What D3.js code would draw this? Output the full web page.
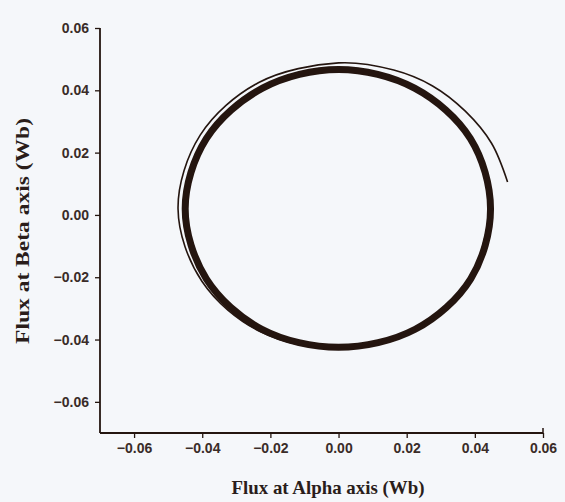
<!DOCTYPE html>
<html>
<head>
<meta charset="utf-8">
<script src="https://cdn.jsdelivr.net/npm/d3@7"></script>
<style>
  body { margin: 0; background: #f5f7fa; }
  svg { display: block; }
</style>
</head>
<body>
<script>
// flux locus, values (Wb)
xTicks = [-0.06, -0.04, -0.02, 0.00, 0.02, 0.04, 0.06];
yTicks = [-0.06, -0.04, -0.02, 0.00, 0.02, 0.04, 0.06];

// first (outer) turn, starting at the right and going anticlockwise
startAlpha = [0.0496, 0.0449, 0.0372, 0.0276, 0.0162, 0.0000, -0.0234, -0.0406, -0.0471, -0.0401, -0.0229, 0.0000, 0.0224, 0.0388, 0.0446];
startBeta  = [0.0106, 0.0230, 0.0333, 0.0414, 0.0465, 0.0488, 0.0425, 0.0256, 0.0020, -0.0213, -0.0375, -0.0428, -0.0365, -0.0203, 0.0020];

// steady state loop
ringAlpha = [0.0446, 0.0387, 0.0223, 0.0000, -0.0223, -0.0388, -0.0450, -0.0388, -0.0225, 0.0000, 0.0225, 0.0388];
ringBeta  = [0.0020, 0.0245, 0.0407, 0.0467, 0.0407, 0.0245, 0.0020, -0.0205, -0.0367, -0.0425, -0.0367, -0.0205];

width = 565, height = 502;
ink = '#24150f';
textInk = '#3a2c28';

svg = d3.select('body').append('svg')
  .attr('width', width)
  .attr('height', height);

xScale = d3.scaleLinear().domain([-0.07, 0.06]).range([100, 543]);
yScale = d3.scaleLinear().domain([-0.07, 0.06]).range([433, 28]);

line = d3.line()
  .x(d => xScale(d[0]))
  .y(d => yScale(d[1]));

ring = d3.zip(ringAlpha, ringBeta);
first = d3.zip(startAlpha, startBeta);

svg.append('path')
  .attr('d', line.curve(d3.curveCatmullRomClosed)(ring))
  .attr('fill', 'none')
  .attr('stroke', ink)
  .attr('stroke-width', 7);

svg.append('path')
  .attr('d', line.curve(d3.curveCatmullRom)(first))
  .attr('fill', 'none')
  .attr('stroke', ink)
  .attr('stroke-width', 1.6);

fmt = d3.format('.2f');
minor = d3.range(-0.07, 0.0601, 0.01);

// x axis
gx = svg.append('g')
  .attr('transform', 'translate(0,' + yScale(-0.07) + ')');
gx.call(d3.axisBottom(xScale).tickValues(minor).tickSize(3).tickFormat(''));
gx.call(d3.axisBottom(xScale).tickValues(xTicks).tickSize(5).tickPadding(5).tickFormat(fmt));
gx.selectAll('.domain').remove();
gx.append('line')
  .attr('x1', xScale(-0.07)).attr('x2', xScale(0.06))
  .attr('stroke', ink).attr('stroke-width', 1.8);
gx.append('line')
  .attr('x1', xScale(0.06)).attr('x2', xScale(0.06))
  .attr('y1', 0).attr('y2', -5)
  .attr('stroke', ink).attr('stroke-width', 1.5);

// y axis
gy = svg.append('g')
  .attr('transform', 'translate(' + xScale(-0.07) + ',0)');
gy.call(d3.axisLeft(yScale).tickValues(minor).tickSize(3).tickFormat(''));
gy.call(d3.axisLeft(yScale).tickValues(yTicks).tickSize(5).tickPadding(6).tickFormat(fmt));
gy.selectAll('.domain').remove();
gy.append('line')
  .attr('y1', yScale(-0.07)).attr('y2', yScale(0.06))
  .attr('stroke', ink).attr('stroke-width', 1.8);

svg.selectAll('.tick line')
  .attr('stroke', ink)
  .attr('stroke-width', 1.3);
svg.selectAll('.tick text')
  .attr('fill', textInk)
  .attr('font-family', 'Liberation Sans, Arial, sans-serif')
  .attr('font-weight', 'bold')
  .attr('font-size', 14);

svg.append('text')
  .attr('x', 328).attr('y', 494)
  .attr('text-anchor', 'middle')
  .attr('font-family', 'Liberation Serif, Times New Roman, serif')
  .attr('font-weight', 'bold')
  .attr('font-size', 19)
  .attr('textLength', 193)
  .attr('lengthAdjust', 'spacingAndGlyphs')
  .attr('fill', '#2a1d1a')
  .text('Flux at Alpha axis (Wb)');

svg.append('text')
  .attr('transform', 'translate(29,231) rotate(-90)')
  .attr('text-anchor', 'middle')
  .attr('font-family', 'Liberation Serif, Times New Roman, serif')
  .attr('font-weight', 'bold')
  .attr('font-size', 19)
  .attr('textLength', 226)
  .attr('lengthAdjust', 'spacingAndGlyphs')
  .attr('fill', '#2a1d1a')
  .text('Flux at Beta axis (Wb)');
</script>
</body>
</html>
